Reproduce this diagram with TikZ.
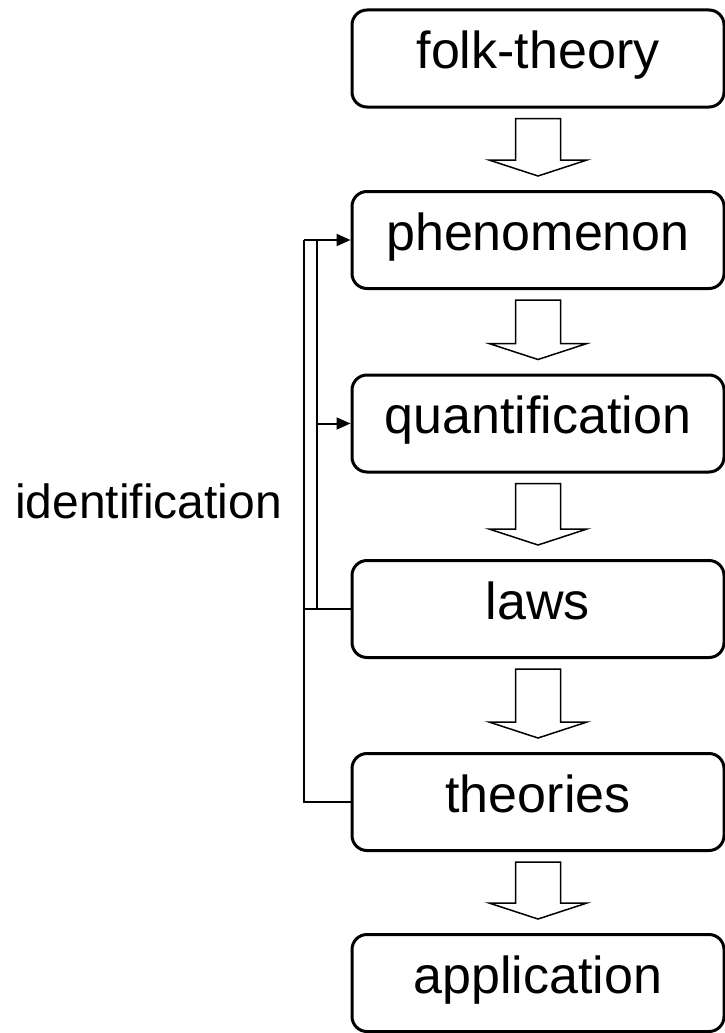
\documentclass[tikz,border=0pt]{standalone}
\usepackage{fontspec}
\setmainfont{Liberation Sans}
\usetikzlibrary{arrows.meta,calc}
\tikzset{
  box/.style={draw, line width=3pt, rounded corners=15pt, minimum width=372pt, minimum height=97pt, inner sep=0pt,
    font=\fontsize{52}{62}\selectfont, text height=36pt, text depth=16pt},
  barrowstyle/.style={draw, line width=1.5pt, fill=white, line join=miter},
  link/.style={line width=2pt},
  linkarrow/.style={line width=2pt, -{Triangle[length=14pt,width=12pt]}},
}
\newcommand\blockarrow[2]{%
  \draw[barrowstyle] let \p1=($(#1.south)+(0,10)$), \p2=($(#2.north)+(0,-14)$) in
    (\x1-22.5pt,\y1) -- (\x1+22.5pt,\y1) -- (\x1+22.5pt,\y2+16pt) -- (\x1+49pt,\y2+16pt)
    -- (\x1,\y2) -- (\x1-49pt,\y2+16pt) -- (\x1-22.5pt,\y2+16pt) -- cycle;}
\begin{document}
\begin{tikzpicture}[x=1pt,y=-1pt]
\useasboundingbox (0,0) rectangle (725,1033);
\node[box] (folk) at (538,58.5) {folk-theory};
\node[box] (phen) at (538,240) {phenomenon};
\node[box] (quant) at (538,423.5) {quantification};
\node[box] (laws) at (538,609) {laws};
\node[box] (theo) at (538,802) {theories};
\node[box] (appl) at (538,983) {application};
\blockarrow{folk}{phen}
\blockarrow{phen}{quant}
\blockarrow{quant}{laws}
\blockarrow{laws}{theo}
\blockarrow{theo}{appl}
\coordinate (xo) at (304,0);
\coordinate (xi) at (317,0);
\node[anchor=base west, inner sep=0pt, font=\fontsize{48}{58}\selectfont] (ident) at (15,518) {identification};
\draw[link] (theo.west) -- (theo.west -| xo) -- (phen.west -| xo);
\draw[linkarrow] (phen.west -| xo) -- (phen.west);
\draw[link] (laws.west) -- (laws.west -| xo);
\draw[link] (laws.west -| xi) -- (phen.west -| xi);
\draw[linkarrow] (quant.west -| xi) -- (quant.west);
\end{tikzpicture}
\end{document}
